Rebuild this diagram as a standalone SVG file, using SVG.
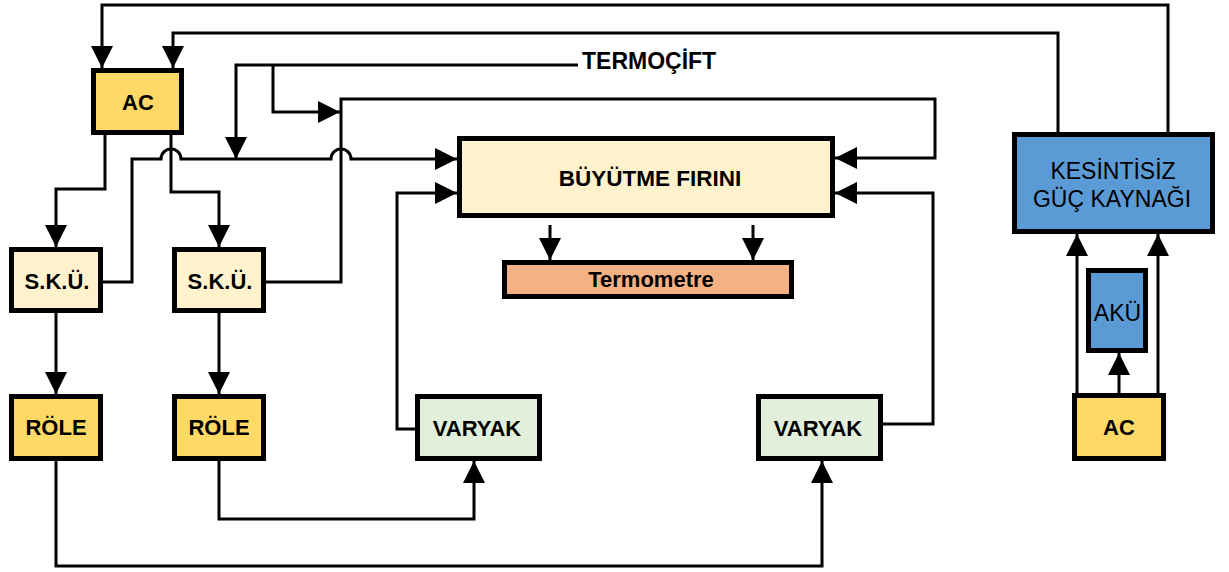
<svg xmlns="http://www.w3.org/2000/svg" width="1229" height="572" viewBox="0 0 1229 572">
  <style>
    .box { stroke: #000; stroke-width: 5; }
    .ac { fill: #FFD966; }
    .cream { fill: #FFF2CC; }
    .green { fill: #E2EFDA; }
    .salmon { fill: #F4B183; }
    .blue { fill: #5B9BD5; }
    .lbl { font-family: "Liberation Sans", Arial, sans-serif; font-size: 22px; font-weight: bold; fill: #000; text-anchor: middle; }
    .lbl-n { font-family: "Liberation Sans", Arial, sans-serif; font-size: 23px; font-weight: normal; fill: #000; text-anchor: middle; }
    .wire { fill: none; stroke: #000; stroke-width: 3; }
    .arr { marker-end: url(#head); }
  </style>
  <defs>
    <marker id="head" markerUnits="userSpaceOnUse" markerWidth="22" markerHeight="22" refX="22" refY="11" orient="auto">
      <path d="M0,0 L22,11 L0,22 Z" fill="#000"/>
    </marker>
  </defs>

  <rect width="1229" height="572" fill="#fff"/>

  <!-- connectors -->
  <g id="connectors">
    <!-- UPS outputs back to the mains AC -->
    <path class="wire arr" d="M1168,132 V5 H102 V68"/>
    <path class="wire arr" d="M1058,132 V33 H173 V68"/>
    <!-- AC to the two temperature controllers -->
    <path class="wire arr" d="M105,135 V189 H56 V247"/>
    <path class="wire arr" d="M171,135 V192 H219 V247"/>
    <!-- controllers to relays -->
    <path class="wire arr" d="M56,313 V394"/>
    <path class="wire arr" d="M219,313 V394"/>
    <!-- controller 1 sense line into the furnace, hopping over two crossings -->
    <path class="wire arr" d="M103,282 H132 V159 H161 A10,10 0 0 1 181,159 H331 A10,10 0 0 1 351,159 H457"/>
    <!-- controller 2 sense line round to the furnace right side -->
    <path class="wire arr" d="M266,282 H341 V99 H935 V158 H835"/>
    <!-- thermocouple lead and its branches -->
    <path class="wire arr" d="M578,65 H236 V159"/>
    <path class="wire arr" d="M273,65 V112 H340"/>
    <!-- relays to variacs -->
    <path class="wire arr" d="M56,461 V566 H822 V461"/>
    <path class="wire arr" d="M219,461 V519 H474 V461"/>
    <!-- variacs into the furnace -->
    <path class="wire arr" d="M415,429 H397 V193 H457"/>
    <path class="wire arr" d="M883,424 H933 V193 H835"/>
    <!-- furnace to thermometer -->
    <path class="wire arr" d="M550,225 V260"/>
    <path class="wire arr" d="M753,225 V260"/>
    <!-- mains to UPS and battery -->
    <path class="wire arr" d="M1077,393 V234"/>
    <path class="wire arr" d="M1158,393 V234"/>
    <path class="wire arr" d="M1119,393 V353"/>
  </g>

  <text class="lbl" x="582" y="69" style="font-size:23px;text-anchor:start">TERMOÇİFT</text>

  <g id="ac-left">
    <rect class="box ac" x="93.5" y="70.5" width="88" height="62"/>
    <text class="lbl" x="138" y="109.5">AC</text>
  </g>
  <g id="sku-1">
    <rect class="box cream" x="11.5" y="249.5" width="89" height="61"/>
    <text class="lbl" x="57" y="289">S.K.Ü.</text>
  </g>
  <g id="sku-2">
    <rect class="box cream" x="174.5" y="249.5" width="89" height="61"/>
    <text class="lbl" x="220" y="289">S.K.Ü.</text>
  </g>
  <g id="role-1">
    <rect class="box ac" x="11.5" y="396.5" width="89" height="62"/>
    <text class="lbl" x="56" y="435">RÖLE</text>
  </g>
  <g id="role-2">
    <rect class="box ac" x="174.5" y="396.5" width="89" height="62"/>
    <text class="lbl" x="219" y="435">RÖLE</text>
  </g>
  <g id="varyak-1">
    <rect class="box green" x="417.5" y="396.5" width="122" height="62"/>
    <text class="lbl" x="477" y="435.5">VARYAK</text>
  </g>
  <g id="varyak-2">
    <rect class="box green" x="758.5" y="396.5" width="122" height="62"/>
    <text class="lbl" x="818" y="435.5">VARYAK</text>
  </g>
  <g id="furnace">
    <rect class="box cream" x="459.5" y="138.5" width="373" height="77"/>
    <text class="lbl" x="650" y="186" style="font-size:22.5px">BÜYÜTME FIRINI</text>
  </g>
  <g id="thermometer">
    <rect class="box salmon" x="504.5" y="262.5" width="287" height="34"/>
    <text class="lbl" x="651" y="287">Termometre</text>
  </g>
  <g id="ups">
    <rect class="box blue" x="1014.5" y="134.5" width="198" height="97"/>
    <text class="lbl-n" x="1113" y="179">KESİNTİSİZ</text>
    <text class="lbl-n" x="1112" y="207">GÜÇ KAYNAĞI</text>
  </g>
  <g id="battery">
    <rect class="box blue" x="1088.5" y="270.5" width="57" height="80"/>
    <text class="lbl-n" x="1117.5" y="321">AKÜ</text>
  </g>
  <g id="ac-right">
    <rect class="box ac" x="1074.5" y="395.5" width="89" height="63"/>
    <text class="lbl" x="1119" y="435">AC</text>
  </g>
</svg>
